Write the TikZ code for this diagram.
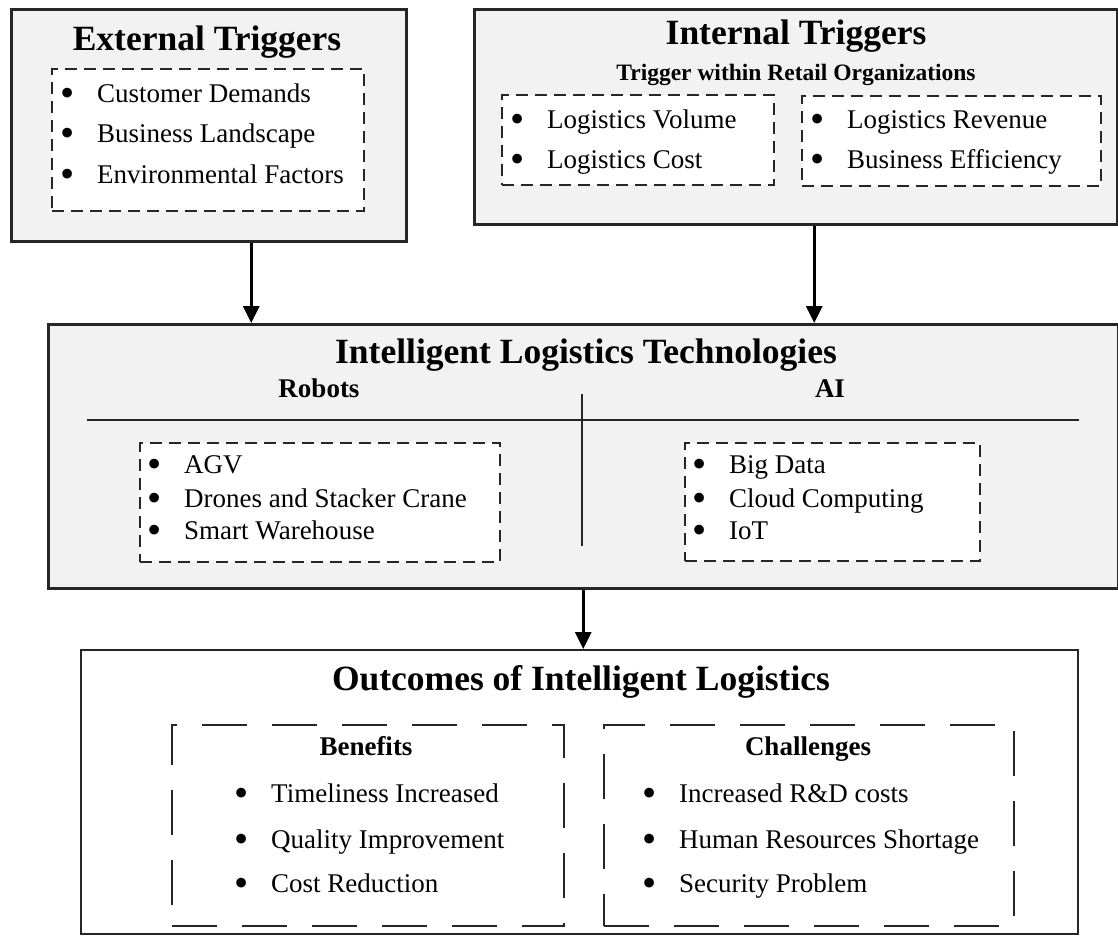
\documentclass[tikz,border=0pt]{standalone}
\usepackage{fontspec}
\setmainfont{Liberation Serif}
\usetikzlibrary{arrows.meta}
\definecolor{boxgray}{HTML}{F2F2F2}
\definecolor{linegray}{HTML}{262626}
\newcommand{\bul}{\makebox[0pt]{\raisebox{-0.15em}{\scalebox{1.5}{\textbullet}}}\hspace{30bp}}
\tikzset{
  gbox/.style={draw=linegray, line width=2.5bp, fill=boxgray, anchor=north west, inner sep=0pt},
  wbox/.style={draw=linegray, line width=2bp, fill=white, anchor=north west, inner sep=0pt},
  dbox/.style={draw=linegray, line width=2bp, fill=white, anchor=north west, inner sep=0pt,
    dash pattern=on 12bp off 7bp},
  lbox/.style={draw=linegray, line width=1.8bp, fill=white, anchor=north west, inner sep=0pt,
    dash pattern=on 45bp off 25bp},
  ttl/.style={font=\fontsize{35.5bp}{40bp}\selectfont\bfseries, anchor=base, inner sep=0pt},
  sub/.style={font=\fontsize{27bp}{32bp}\selectfont\bfseries, anchor=base, inner sep=0pt},
  note/.style={font=\fontsize{23.5bp}{28bp}\selectfont\bfseries, anchor=base, inner sep=0pt},
  item/.style={font=\fontsize{27bp}{32bp}\selectfont, anchor=base west, inner sep=0pt},
  arr/.style={draw=black, line width=3bp, -{Triangle[width=16bp,length=17bp]}},
  rule/.style={draw=linegray, line width=2.5bp}
}

\begin{document}
\begin{tikzpicture}[x=1bp, y=-1bp]
  \useasboundingbox (0,0) rectangle (1118,936);

  % external triggers
  \node[gbox, minimum width=395bp, minimum height=232bp] (ext) at (10,8) {};
  \node[ttl] (extT) at (207,50) {External Triggers};
  \node[dbox, minimum width=312bp, minimum height=142bp] (extL) at (51,68) {};
  \node[item] (ext1) at (67,102) {\bul Customer Demands};
  \node[item] (ext2) at (67,142) {\bul Business Landscape};
  \node[item] (ext3) at (67,183) {\bul Environmental Factors};

  % internal triggers
  \node[gbox, minimum width=643bp, minimum height=215bp] (int) at (473,8) {};
  \node[ttl] (intT) at (796,44) {Internal Triggers};
  \node[note] (intS) at (796,80) {Trigger within Retail Organizations};
  \node[dbox, minimum width=272bp, minimum height=90bp] (intL) at (501,94) {};
  \node[dbox, minimum width=299bp, minimum height=90bp] (intR) at (801,95) {};
  \node[item] (int1) at (517,128) {\bul Logistics Volume};
  \node[item] (int2) at (517,168) {\bul Logistics Cost};
  \node[item] (int3) at (817,128) {\bul Logistics Revenue};
  \node[item] (int4) at (817,168) {\bul Business Efficiency};

  % technologies
  \node[gbox, minimum width=1070bp, minimum height=264bp] (tech) at (47,323) {};
  \node[ttl] (techT) at (586,363) {Intelligent Logistics Technologies};
  \node[sub] (rob) at (319,397) {Robots};
  \node[sub] (ai) at (830,397) {AI};
  \draw[rule] (87,420) -- (1079,420);
  \draw[rule] (582,394) -- (582,546);
  \node[dbox, minimum width=360bp, minimum height=119bp] (robL) at (139,442) {};
  \node[dbox, minimum width=295bp, minimum height=118bp] (aiL) at (684,442) {};
  \node[item] (rob1) at (154,473) {\bul AGV};
  \node[item] (rob2) at (154,507) {\bul Drones and Stacker Crane};
  \node[item] (rob3) at (154,539) {\bul Smart Warehouse};
  \node[item] (ai1) at (699,473) {\bul Big Data};
  \node[item] (ai2) at (699,507) {\bul Cloud Computing};
  \node[item] (ai3) at (699,539) {\bul IoT};

  % outcomes
  \node[wbox, minimum width=997bp, minimum height=284bp] (out) at (80,649) {};
  \node[ttl] (outT) at (581,690) {Outcomes of Intelligent Logistics};
  \node[lbox, minimum width=392bp, minimum height=201bp] (ben) at (171,724) {};
  \node[lbox, minimum width=410bp, minimum height=201bp] (cha) at (603,724) {};
  \node[sub] (benT) at (366,755) {Benefits};
  \node[sub] (chaT) at (808,755) {Challenges};
  \node[item] (ben1) at (241,802) {\bul Timeliness Increased};
  \node[item] (ben2) at (241,848) {\bul Quality Improvement};
  \node[item] (ben3) at (241,892) {\bul Cost Reduction};
  \node[item] (cha1) at (649,802) {\bul Increased R\&D costs};
  \node[item] (cha2) at (649,848) {\bul Human Resources Shortage};
  \node[item] (cha3) at (649,892) {\bul Security Problem};

  \draw[arr] ([xshift=42.5bp]ext.south) -- ([xshift=42.5bp]ext.south |- tech.north);
  \draw[arr] ([xshift=18.5bp]int.south) -- ([xshift=18.5bp]int.south |- tech.north);
  \draw[arr] (tech.south) -- (tech.south |- out.north);
\end{tikzpicture}
\end{document}
